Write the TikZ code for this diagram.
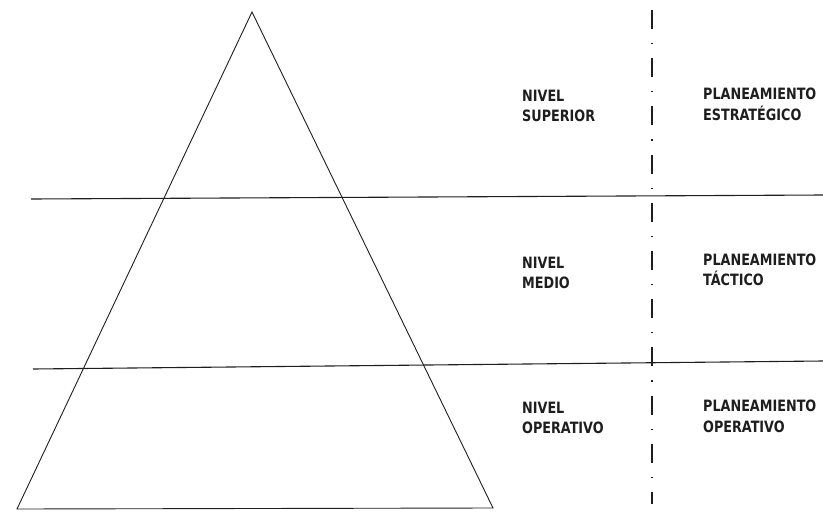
\documentclass[tikz,border=0pt]{standalone}
\usepackage{fontspec}
\newfontfamily\condfont[FakeStretch=0.91]{DejaVu Sans Condensed}
\usepackage{xcolor}
\definecolor{ink}{HTML}{1E1E1E}
\tikzset{
  lbl/.style={anchor=north west, inner sep=0pt, align=left, text=ink,
    font=\condfont\bfseries\fontsize{15.6}{20.5}\selectfont},
  rule/.style={draw=ink, line width=1.1pt},
  edge/.style={draw=ink, line width=0.9pt, line join=miter},
  divider/.style={draw=ink, line width=1.2pt, dash pattern=on 19pt off 14pt on 1.2pt off 14pt}
}

\begin{document}
\begin{tikzpicture}[x=1pt, y=-1pt]
        \useasboundingbox (0,0) rectangle (823,512);
        % pyramid
        \coordinate (apex) at (252,12);
        \coordinate (baseL) at (17,509);
        \coordinate (baseR) at (493,508);
        \draw[edge] (baseL) -- (apex) -- (baseR) -- cycle;
        % level rules
        \coordinate (r1a) at (31,199); \coordinate (r1b) at (823,195);
        \coordinate (r2a) at (33,369); \coordinate (r2b) at (823,361);
        \draw[rule] (r1a) -- (r1b);
        \draw[rule] (r2a) -- (r2b);
        % dash-dot divider
        \coordinate (divtop) at (652,10); \coordinate (divbot) at (652,504);
        \draw[divider] (divtop) -- (divbot);
        % labels
        \node[lbl] (nivsup) at (522,89.5) {NIVEL\\SUPERIOR};
        \node[lbl] (nivmed) at (522,256.5) {NIVEL\\MEDIO};
        \node[lbl] (nivope) at (522,401.5) {NIVEL\\OPERATIVO};
        \node[lbl] (planest) at (703,88) {PLANEAMIENTO\\ESTRATÉGICO};
        \node[lbl] (plantac) at (703,253.5) {PLANEAMIENTO\\TÁCTICO};
        \node[lbl] (planope) at (703,400) {PLANEAMIENTO\\OPERATIVO};
      \end{tikzpicture}
\end{document}
